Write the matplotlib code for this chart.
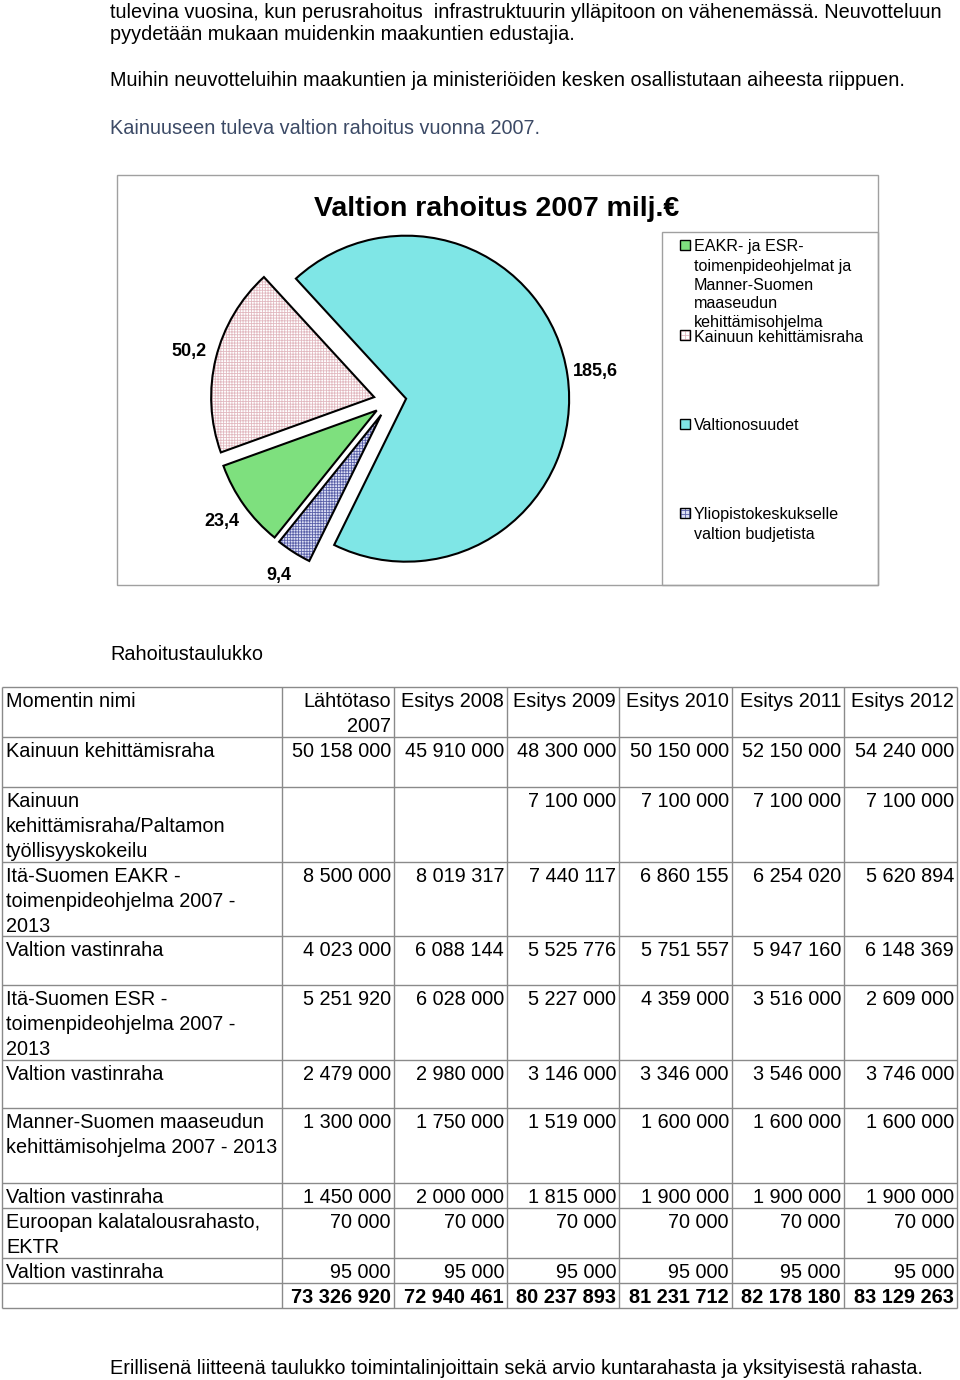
import matplotlib
matplotlib.use("Agg")
import matplotlib.pyplot as plt
from matplotlib.patches import Rectangle

plt.rcParams['font.family'] = ['Liberation Sans', 'DejaVu Sans']
plt.rcParams['hatch.linewidth'] = 0.6

# ---------------- data ----------------
intro_lines = [
    "tulevina vuosina, kun perusrahoitus  infrastruktuurin ylläpitoon on vähenemässä. Neuvotteluun",
    "pyydetään mukaan muidenkin maakuntien edustajia.",
    "Muihin neuvotteluihin maakuntien ja ministeriöiden kesken osallistutaan aiheesta riippuen.",
    "Kainuuseen tuleva valtion rahoitus vuonna 2007.",
]
table_caption = "Rahoitustaulukko"
footer_text = "Erillisenä liitteenä taulukko toimintalinjoittain sekä arvio kuntarahasta ja yksityisestä rahasta."

pie_title = "Valtion rahoitus 2007 milj.€"
pie_categories = [
    "EAKR- ja ESR-\ntoimenpideohjelmat ja\nManner-Suomen\nmaaseudun\nkehittämisohjelma",
    "Kainuun kehittämisraha",
    "Valtionosuudet",
    "Yliopistokeskukselle\nvaltion budjetista",
]
pie_values = [23.4, 50.2, 185.6, 9.4]

table_header = ["Momentin nimi", "Lähtötaso\n2007", "Esitys 2008", "Esitys 2009",
                "Esitys 2010", "Esitys 2011", "Esitys 2012"]
row_names = [
    "Kainuun kehittämisraha",
    "Kainuun\nkehittämisraha/Paltamon\ntyöllisyyskokeilu",
    "Itä-Suomen EAKR -\ntoimenpideohjelma 2007 -\n2013",
    "Valtion vastinraha",
    "Itä-Suomen ESR -\ntoimenpideohjelma 2007 -\n2013",
    "Valtion vastinraha",
    "Manner-Suomen maaseudun\nkehittämisohjelma 2007 - 2013",
    "Valtion vastinraha",
    "Euroopan kalatalousrahasto,\nEKTR",
    "Valtion vastinraha",
]
kainuun_kehittamisraha = [50158000, 45910000, 48300000, 50150000, 52150000, 54240000]
paltamon_kokeilu = [None, None, 7100000, 7100000, 7100000, 7100000]
eakr_ohjelma = [8500000, 8019317, 7440117, 6860155, 6254020, 5620894]
eakr_vastinraha = [4023000, 6088144, 5525776, 5751557, 5947160, 6148369]
esr_ohjelma = [5251920, 6028000, 5227000, 4359000, 3516000, 2609000]
esr_vastinraha = [2479000, 2980000, 3146000, 3346000, 3546000, 3746000]
maaseutu_ohjelma = [1300000, 1750000, 1519000, 1600000, 1600000, 1600000]
maaseutu_vastinraha = [1450000, 2000000, 1815000, 1900000, 1900000, 1900000]
ektr = [70000, 70000, 70000, 70000, 70000, 70000]
ektr_vastinraha = [95000, 95000, 95000, 95000, 95000, 95000]
totals = [73326920, 72940461, 80237893, 81231712, 82178180, 83129263]

row_values = [kainuun_kehittamisraha, paltamon_kokeilu, eakr_ohjelma, eakr_vastinraha,
              esr_ohjelma, esr_vastinraha, maaseutu_ohjelma, maaseutu_vastinraha,
              ektr, ektr_vastinraha]


def fmt_num(v):
    return "" if v is None else f"{v:,}".replace(",", " ")


def fmt_dec(v):
    return f"{v:.1f}".replace(".", ",")


# ---------------- layout ----------------
W, H = 960, 1380
fig = plt.figure(figsize=(W / 100, H / 100), dpi=100)
fig.patch.set_facecolor("white")
page = fig.add_axes([0, 0, 1, 1])
page.set_xlim(0, W)
page.set_ylim(H, 0)
page.axis("off")

body_size = 14.3
grid_col = "#8a8a8a"
dy = 2  # vertical text nudge

# intro text
intro_y = [10, 33, 79, 126]
intro_colors = ["black", "black", "black", "#3c4a66"]
for txt, y, c in zip(intro_lines, intro_y, intro_colors):
    page.text(110, y + dy, txt, ha="left", va="center", fontsize=body_size, color=c)

# chart frame and legend frame
page.add_patch(Rectangle((117, 175), 761, 410, fill=False, ec="#a0a0a0", lw=1.0))
page.add_patch(Rectangle((662, 232), 216, 353, fill=False, ec="#a0a0a0", lw=1.0))
page.text(497, 207 + dy, pie_title, ha="center", va="center", fontsize=20.5,
          fontweight="bold")

# pie styles
face_colors = ["#7ee07e", "#ffffff", "#7fe6e6", "#dcdff5"]
hatch_colors = [None, "#e2b9c0", None, "#5a60a8"]
hatches = [None, "++++++", None, "++++++"]

cx, cy, rad = 390, 401, 163
side = 2.5 * rad
pax = fig.add_axes([(cx - side / 2) / W, (H - cy - side / 2) / H, side / W, side / H])
explode = [0.1] * len(pie_values)
wedges, texts = pax.pie(pie_values, explode=explode, startangle=231.2,
                        counterclock=False, colors=face_colors,
                        labels=[fmt_dec(v) for v in pie_values], labeldistance=1.17,
                        textprops=dict(fontsize=13, fontweight="bold"),
                        wedgeprops=dict(lw=0))
for w, h, hc in zip(wedges, hatches, hatch_colors):
    if h:
        w.set_edgecolor(hc)
        w.set_hatch(h)
        w.set_linewidth(0)
for t in texts:
    t.set_ha("center")
    t.set_va("center")
pax.pie(pie_values, explode=explode, startangle=231.2, counterclock=False,
        colors=["none"] * len(pie_values),
        wedgeprops=dict(fill=False, ec="black", lw=1.5))
pax.set_xlim(-1.25, 1.25)
pax.set_ylim(-1.25, 1.25)

# legend (manual, Excel-like spacing)
leg_y = [245, 335, 424, 513]
for cat, y, fc, h, hc in zip(pie_categories, leg_y, face_colors, hatches, hatch_colors):
    if h:
        page.add_patch(Rectangle((680, y - 5), 10, 10, fc=fc, ec=hc, hatch="++++", lw=0))
    else:
        page.add_patch(Rectangle((680, y - 5), 10, 10, fc=fc, lw=0))
    page.add_patch(Rectangle((680, y - 5), 10, 10, fill=False, ec="black", lw=1.0))
    for j, line in enumerate(cat.split("\n")):
        page.text(694, y + dy + 19 * j, line, ha="left", va="center", fontsize=11.6)

# table caption
page.text(110, 652 + dy, table_caption, ha="left", va="center", fontsize=body_size)

# table grid
col_edges = [2, 282, 394, 507, 619, 732, 844, 957]
row_edges = [687, 737, 787, 862, 936, 985, 1060, 1108, 1183, 1208, 1258, 1283, 1308]
for y in row_edges:
    page.plot([col_edges[0], col_edges[-1]], [y, y], color=grid_col, lw=1.0,
              solid_capstyle="butt")
for x in col_edges:
    page.plot([x, x], [row_edges[0], row_edges[-1]], color=grid_col, lw=1.0,
              solid_capstyle="butt")

line_h = 25
first_off = 12.5 + dy


def cell_lines(text, x, top, ha, bold=False):
    for j, line in enumerate(text.split("\n")):
        page.text(x, top + first_off + line_h * j, line, ha=ha, va="center",
                  fontsize=body_size, fontweight="bold" if bold else "normal")


# header
cell_lines(table_header[0], 6, row_edges[0], "left")
for k, hdr in enumerate(table_header[1:]):
    cell_lines(hdr, col_edges[k + 2] - 3, row_edges[0], "right")

# body rows
for i, (name, vals) in enumerate(zip(row_names, row_values)):
    top = row_edges[i + 1]
    cell_lines(name, 6, top, "left")
    for k, v in enumerate(vals):
        cell_lines(fmt_num(v), col_edges[k + 2] - 3, top, "right")

# totals
top = row_edges[len(row_names) + 1]
for k, v in enumerate(totals):
    cell_lines(fmt_num(v), col_edges[k + 2] - 3, top, "right", bold=True)

# footer
page.text(110, 1366 + dy, footer_text, ha="left", va="center", fontsize=body_size)

fig.savefig("out.png", dpi=100)
